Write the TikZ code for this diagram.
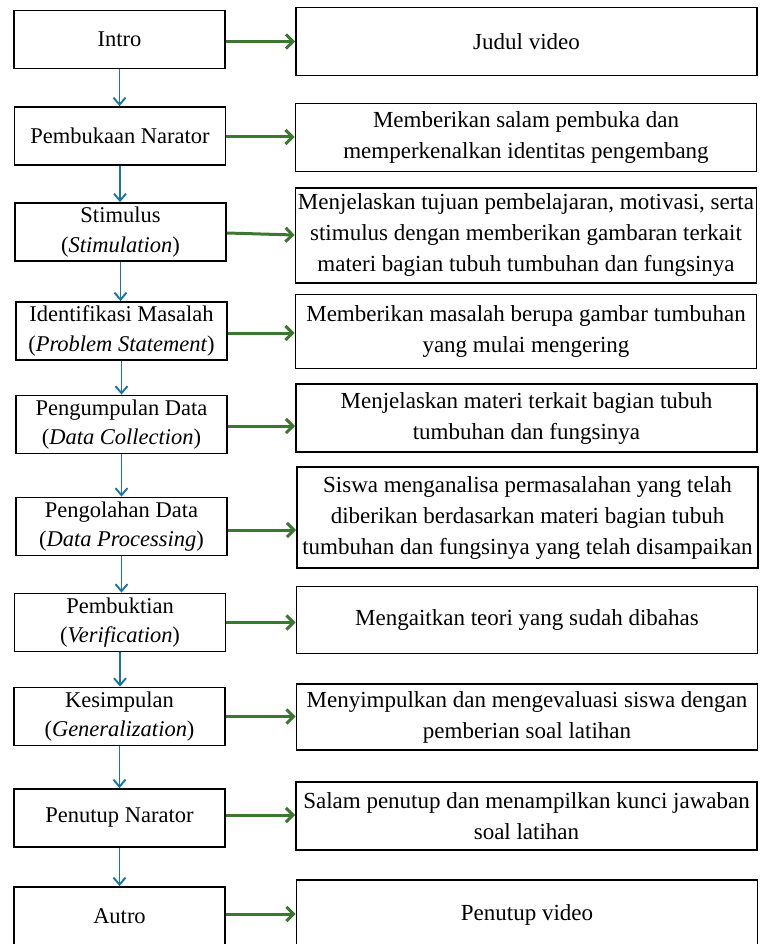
\documentclass[tikz,border=0pt]{standalone}
\usepackage{fontspec}
\setmainfont{Liberation Serif}
\usepackage{xcolor}
\usetikzlibrary{arrows.meta,positioning}
\definecolor{flowblue}{RGB}{24,117,163}
\definecolor{flowgreen}{RGB}{58,120,48}

\begin{document}
\begin{tikzpicture}[
    x=1pt, y=-1pt,
    stage/.style={draw, line width=1.8pt, minimum width=211pt, minimum height=58pt,
        inner sep=0, align=center, font=\fontsize{22.5}{29.5}\selectfont},
    desc/.style={draw, line width=1.8pt, minimum width=461pt,
        inner sep=0, align=center, font=\fontsize{23}{31}\selectfont},
    down/.style={flowblue, line width=1.9pt, -{Straight Barb[length=7pt,width=12pt]}},
    side/.style={flowgreen, line width=3pt, -{Straight Barb[length=7pt,width=14pt]}}]

\useasboundingbox (0,0) rectangle (760,944);

% left column
\node[stage] (intro)   at (119.5,39.5)  {Intro};
\node[stage] (buka)    at (120,136)     {Pembukaan Narator};
\node[stage] (stim)    at (120.5,232)   {Stimulus\\(\textit{Stimulation})};
\node[stage] (ident)   at (121.5,331)   {Identifikasi Masalah\\(\textit{Problem Statement})};
\node[stage] (kumpul)  at (121.5,424.5) {Pengumpulan Data\\(\textit{Data Collection})};
\node[stage] (olah)    at (121.5,526.5) {Pengolahan Data\\(\textit{Data Processing})};
\node[stage] (bukti)   at (120,622.5)   {Pembuktian\\(\textit{Verification})};
\node[stage] (simpul)  at (119.5,716.5) {Kesimpulan\\(\textit{Generalization})};
\node[stage] (tutup)   at (119.5,818)   {Penutup Narator};
\node[stage] (autro)   at (119.5,916)   {Autro};

% right column
\node[desc, minimum height=68pt]  (judul)   at (526.5,41.5)  {Judul video};
\node[desc, minimum height=68pt]  (salam)   at (526,137.5)   {Memberikan salam pembuka dan\\memperkenalkan identitas pengembang};
\node[desc, minimum height=95pt]  (tujuan)  at (526,235.5)   {Menjelaskan tujuan pembelajaran, motivasi, serta\\stimulus dengan memberikan gambaran terkait\\materi bagian tubuh tumbuhan dan fungsinya};
\node[desc, minimum height=74pt]  (masalah) at (526,331.5)   {Memberikan masalah berupa gambar tumbuhan\\yang mulai mengering};
\node[desc, minimum height=68pt]  (materi)  at (526.5,418)   {Menjelaskan materi terkait bagian tubuh\\tumbuhan dan fungsinya};
\node[desc, minimum height=101pt] (analisa) at (527.5,517.5) {Siswa menganalisa permasalahan yang telah\\diberikan berdasarkan materi bagian tubuh\\tumbuhan dan fungsinya yang telah disampaikan};
\node[desc, minimum height=67pt]  (teori)   at (527,620)     {Mengaitkan teori yang sudah dibahas};
\node[desc, minimum height=66pt]  (evaluasi) at (527,717)    {Menyimpulkan dan mengevaluasi siswa dengan\\pemberian soal latihan};
\node[desc, minimum height=68pt]  (kunci)   at (526.5,816)   {Salam penutup dan menampilkan kunci jawaban\\soal latihan};
\node[desc, minimum height=70pt]  (pvideo)  at (527,915)     {Penutup video};

% flow down
\draw[down] (intro.south)  -- (intro.south |- buka.north);
\draw[down] (buka.south)   -- (buka.south |- stim.north);
\draw[down] (stim.south)   -- (stim.south |- ident.north);
\draw[down] (ident.south)  -- (ident.south |- kumpul.north);
\draw[down] (kumpul.south) -- (kumpul.south |- olah.north);
\draw[down] (olah.south)   -- (olah.south |- bukti.north);
\draw[down] (bukti.south)  -- (bukti.south |- simpul.north);
\draw[down] (simpul.south) -- (simpul.south |- tutup.north);
\draw[down] (tutup.south)  -- (tutup.south |- autro.north);

% stage to content
\draw[side] ([yshift=-2pt]intro.east)  -- ([yshift=-2pt]intro.east -| judul.west);
\draw[side] ([yshift=-1pt]buka.east)   -- ([yshift=-1pt]buka.east -| salam.west);
\draw[side] ([yshift=-1pt]stim.east)   -- ([yshift=-3pt]stim.east -| tujuan.west);
\draw[side] ([yshift=-2pt]ident.east)  -- ([yshift=-2pt]ident.east -| masalah.west);
\draw[side] ([yshift=-1.5pt]kumpul.east) -- ([yshift=-1.5pt]kumpul.east -| materi.west);
\draw[side] ([yshift=-3.5pt]olah.east) -- ([yshift=-3.5pt]olah.east -| analisa.west);
\draw[side] (bukti.east)  -- (bukti.east -| teori.west);
\draw[side] (simpul.east) -- (simpul.east -| evaluasi.west);
\draw[side] ([yshift=3pt]tutup.east) -- ([yshift=3pt]tutup.east -| kunci.west);
\draw[side] ([yshift=2pt]autro.east) -- ([yshift=2pt]autro.east -| pvideo.west);

\end{tikzpicture}
\end{document}
